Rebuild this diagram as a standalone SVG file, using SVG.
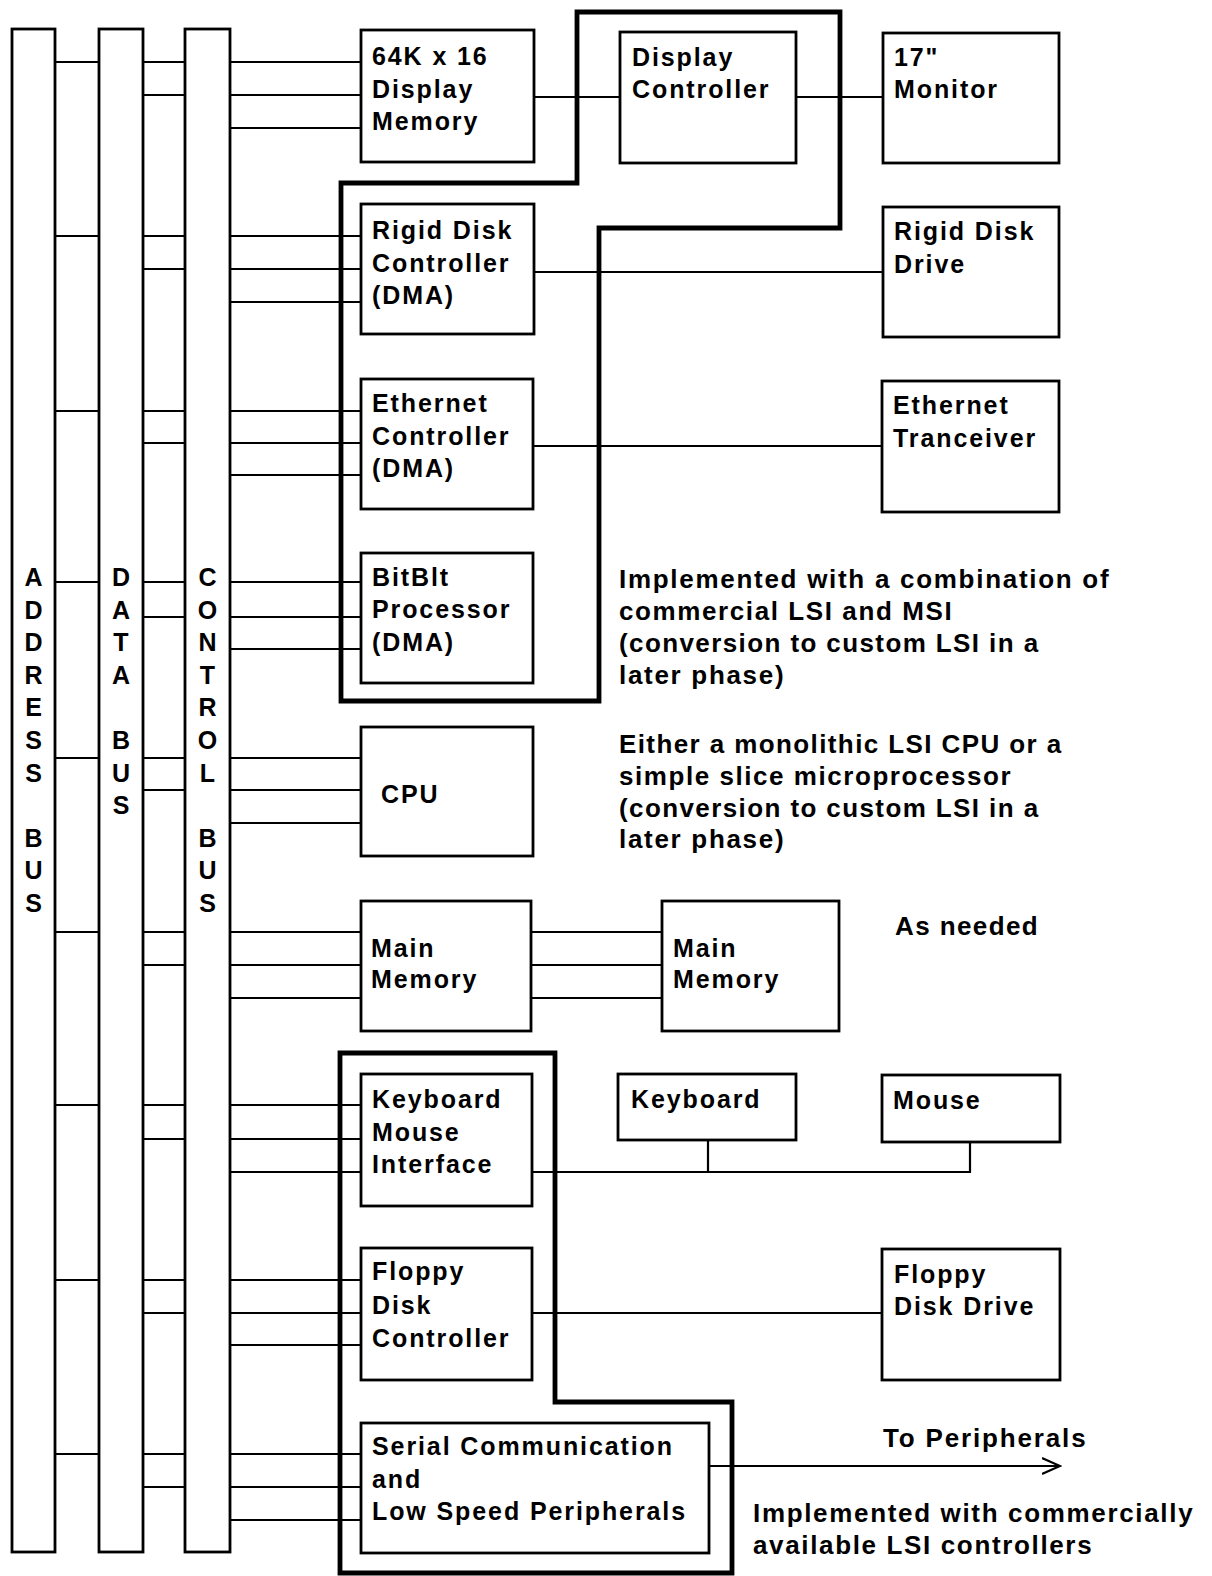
<svg xmlns="http://www.w3.org/2000/svg" width="1212" height="1576" viewBox="0 0 1212 1576">
<style>
  .bg { fill: #ffffff; }
  .box { fill: none; stroke: #000; stroke-width: 2.8; }
  .bus { fill: none; stroke: #000; stroke-width: 2.8; }
  .thick { fill: none; stroke: #000; stroke-width: 4.8; stroke-linejoin: miter; }
  .wire { fill: none; stroke: #000; stroke-width: 2.2; }
  .t { font-family: "Liberation Sans", Arial, Helvetica, sans-serif; font-weight: bold; font-size: 25px; letter-spacing: 1.9px; fill: #000; }
  .a { font-family: "Liberation Sans", Arial, Helvetica, sans-serif; font-weight: bold; font-size: 26px; letter-spacing: 1.4px; fill: #000; }
  .bl { font-family: "Liberation Sans", Arial, Helvetica, sans-serif; font-weight: bold; font-size: 25px; text-anchor: middle; fill: #000; }
</style>
<defs>
  <marker id="chev" markerWidth="20" markerHeight="20" refX="18" refY="9" orient="auto" markerUnits="userSpaceOnUse">
    <path d="M0,1 L18,9 L0,17" fill="none" stroke="#000" stroke-width="2.2"/>
  </marker>
</defs>
<rect class="bg" x="0" y="0" width="1212" height="1576"/>

<!-- Thick grouping outlines -->
<g id="group-custom">
  <path class="thick" d="M341,183 L577,183 L577,12 L840,12 L840,228 L599,228 L599,701 L341,701 Z"/>
</g>
<g id="group-commercial">
  <path class="thick" d="M340,1053 L555,1053 L555,1402 L732,1402 L732,1573 L340,1573 Z"/>
</g>

<!-- Connectors -->
<g id="connectors">
  <path class="wire" d="
    M55,62 H99 M143,62 H185 M143,95 H185 M230,62 H361 M230,95 H361 M230,128 H361
    M55,236 H99 M143,236 H185 M143,269 H185 M230,236 H361 M230,269 H361 M230,302 H361
    M55,411 H99 M143,411 H185 M143,443 H185 M230,411 H361 M230,443 H361 M230,475 H361
    M55,582 H99 M143,582 H185 M143,617 H185 M230,582 H361 M230,617 H361 M230,649 H361
    M55,758 H99 M143,758 H185 M143,790 H185 M230,758 H361 M230,790 H361 M230,823 H361
    M55,932 H99 M143,932 H185 M143,965 H185 M230,932 H361 M230,965 H361 M230,998 H361
    M55,1105 H99 M143,1105 H185 M143,1139 H185 M230,1105 H361 M230,1139 H361 M230,1172 H361
    M55,1280 H99 M143,1280 H185 M143,1313 H185 M230,1280 H361 M230,1313 H361 M230,1345 H361
    M55,1454 H99 M143,1454 H185 M143,1487 H185 M230,1454 H361 M230,1487 H361 M230,1520 H361
  "/>
  <path class="wire" d="M534,97 H620 M796,97 H883"/>
  <path class="wire" d="M534,272 H883"/>
  <path class="wire" d="M533,446 H882"/>
  <path class="wire" d="M531,932 H662 M531,965 H662 M531,998 H662"/>
  <path class="wire" d="M532,1172 H970 V1142 M708,1172 V1140"/>
  <path class="wire" d="M532,1313 H882"/>
  <path class="wire" d="M709,1466 H1060" marker-end="url(#chev)"/>
</g>

<!-- Buses -->
<g id="address-bus">
  <rect class="bus" x="12" y="29" width="43" height="1523"/>
  <text class="bl" x="33.5" y="586">A</text>
  <text class="bl" x="33.5" y="618.6">D</text>
  <text class="bl" x="33.5" y="651.2">D</text>
  <text class="bl" x="33.5" y="683.8">R</text>
  <text class="bl" x="33.5" y="716.4">E</text>
  <text class="bl" x="33.5" y="749">S</text>
  <text class="bl" x="33.5" y="781.6">S</text>
  <text class="bl" x="33.5" y="846.8">B</text>
  <text class="bl" x="33.5" y="879.4">U</text>
  <text class="bl" x="33.5" y="912">S</text>
</g>
<g id="data-bus">
  <rect class="bus" x="99" y="29" width="44" height="1523"/>
  <text class="bl" x="121" y="586">D</text>
  <text class="bl" x="121" y="618.6">A</text>
  <text class="bl" x="121" y="651.2">T</text>
  <text class="bl" x="121" y="683.8">A</text>
  <text class="bl" x="121" y="749">B</text>
  <text class="bl" x="121" y="781.6">U</text>
  <text class="bl" x="121" y="814.2">S</text>
</g>
<g id="control-bus">
  <rect class="bus" x="185" y="29" width="45" height="1523"/>
  <text class="bl" x="207.5" y="586">C</text>
  <text class="bl" x="207.5" y="618.6">O</text>
  <text class="bl" x="207.5" y="651.2">N</text>
  <text class="bl" x="207.5" y="683.8">T</text>
  <text class="bl" x="207.5" y="716.4">R</text>
  <text class="bl" x="207.5" y="749">O</text>
  <text class="bl" x="207.5" y="781.6">L</text>
  <text class="bl" x="207.5" y="846.8">B</text>
  <text class="bl" x="207.5" y="879.4">U</text>
  <text class="bl" x="207.5" y="912">S</text>
</g>

<!-- Nodes -->
<g id="display-memory">
  <rect class="box" x="361" y="30" width="173" height="132"/>
  <text class="t" x="372" y="65">64K x 16</text>
  <text class="t" x="372" y="97.5">Display</text>
  <text class="t" x="372" y="130">Memory</text>
</g>
<g id="display-controller">
  <rect class="box" x="620" y="32" width="176" height="131"/>
  <text class="t" x="632" y="66">Display</text>
  <text class="t" x="632" y="98">Controller</text>
</g>
<g id="monitor">
  <rect class="box" x="883" y="33" width="176" height="130"/>
  <text class="t" x="894" y="66">17"</text>
  <text class="t" x="894" y="98">Monitor</text>
</g>
<g id="rigid-disk-controller">
  <rect class="box" x="361" y="204" width="173" height="130"/>
  <text class="t" x="372" y="239">Rigid Disk</text>
  <text class="t" x="372" y="272">Controller</text>
  <text class="t" x="372" y="304">(DMA)</text>
</g>
<g id="rigid-disk-drive">
  <rect class="box" x="883" y="207" width="176" height="130"/>
  <text class="t" x="894" y="240">Rigid Disk</text>
  <text class="t" x="894" y="273">Drive</text>
</g>
<g id="ethernet-controller">
  <rect class="box" x="361" y="379" width="172" height="130"/>
  <text class="t" x="372" y="412">Ethernet</text>
  <text class="t" x="372" y="445">Controller</text>
  <text class="t" x="372" y="477">(DMA)</text>
</g>
<g id="ethernet-tranceiver">
  <rect class="box" x="882" y="381" width="177" height="131"/>
  <text class="t" x="893" y="414">Ethernet</text>
  <text class="t" x="893" y="447">Tranceiver</text>
</g>
<g id="bitblt-processor">
  <rect class="box" x="361" y="553" width="172" height="130"/>
  <text class="t" x="372" y="586">BitBlt</text>
  <text class="t" x="372" y="618">Processor</text>
  <text class="t" x="372" y="651">(DMA)</text>
</g>
<g id="cpu">
  <rect class="box" x="361" y="727" width="172" height="129"/>
  <text class="t" x="381" y="803">CPU</text>
</g>
<g id="main-memory">
  <rect class="box" x="361" y="901" width="170" height="130"/>
  <text class="t" x="371" y="957">Main</text>
  <text class="t" x="371" y="988">Memory</text>
</g>
<g id="main-memory-2">
  <rect class="box" x="662" y="901" width="177" height="130"/>
  <text class="t" x="673" y="957">Main</text>
  <text class="t" x="673" y="988">Memory</text>
</g>
<g id="keyboard-mouse-interface">
  <rect class="box" x="361" y="1074" width="171" height="132"/>
  <text class="t" x="372" y="1108">Keyboard</text>
  <text class="t" x="372" y="1141">Mouse</text>
  <text class="t" x="372" y="1173">Interface</text>
</g>
<g id="keyboard">
  <rect class="box" x="618" y="1074" width="178" height="66"/>
  <text class="t" x="631" y="1108">Keyboard</text>
</g>
<g id="mouse">
  <rect class="box" x="882" y="1075" width="178" height="67"/>
  <text class="t" x="893" y="1109">Mouse</text>
</g>
<g id="floppy-disk-controller">
  <rect class="box" x="361" y="1248" width="171" height="132"/>
  <text class="t" x="372" y="1280">Floppy</text>
  <text class="t" x="372" y="1314">Disk</text>
  <text class="t" x="372" y="1347">Controller</text>
</g>
<g id="floppy-disk-drive">
  <rect class="box" x="882" y="1249" width="178" height="131"/>
  <text class="t" x="894" y="1283">Floppy</text>
  <text class="t" x="894" y="1315">Disk Drive</text>
</g>
<g id="serial-communication">
  <rect class="box" x="361" y="1423" width="348" height="130"/>
  <text class="t" x="372" y="1455">Serial Communication</text>
  <text class="t" x="372" y="1488">and</text>
  <text class="t" x="372" y="1520">Low Speed Peripherals</text>
</g>

<!-- Annotations -->
<g id="annotations">
  <text class="a" x="619" y="588" textLength="491" lengthAdjust="spacing">Implemented with a combination of</text>
  <text class="a" x="619" y="620" textLength="334" lengthAdjust="spacing">commercial LSI and MSI</text>
  <text class="a" x="619" y="652">(conversion to custom LSI in a</text>
  <text class="a" x="619" y="684" textLength="166" lengthAdjust="spacing">later phase)</text>
  <text class="a" x="619" y="753">Either a monolithic LSI CPU or a</text>
  <text class="a" x="619" y="785" textLength="393" lengthAdjust="spacing">simple slice microprocessor</text>
  <text class="a" x="619" y="817">(conversion to custom LSI in a</text>
  <text class="a" x="619" y="848" textLength="166" lengthAdjust="spacing">later phase)</text>
  <text class="a" x="895" y="935">As needed</text>
  <text class="a" x="883" y="1447" textLength="204" lengthAdjust="spacing">To Peripherals</text>
  <text class="a" x="753" y="1522" textLength="441" lengthAdjust="spacing">Implemented with commercially</text>
  <text class="a" x="753" y="1554" textLength="340" lengthAdjust="spacing">available LSI controllers</text>
</g>
</svg>
